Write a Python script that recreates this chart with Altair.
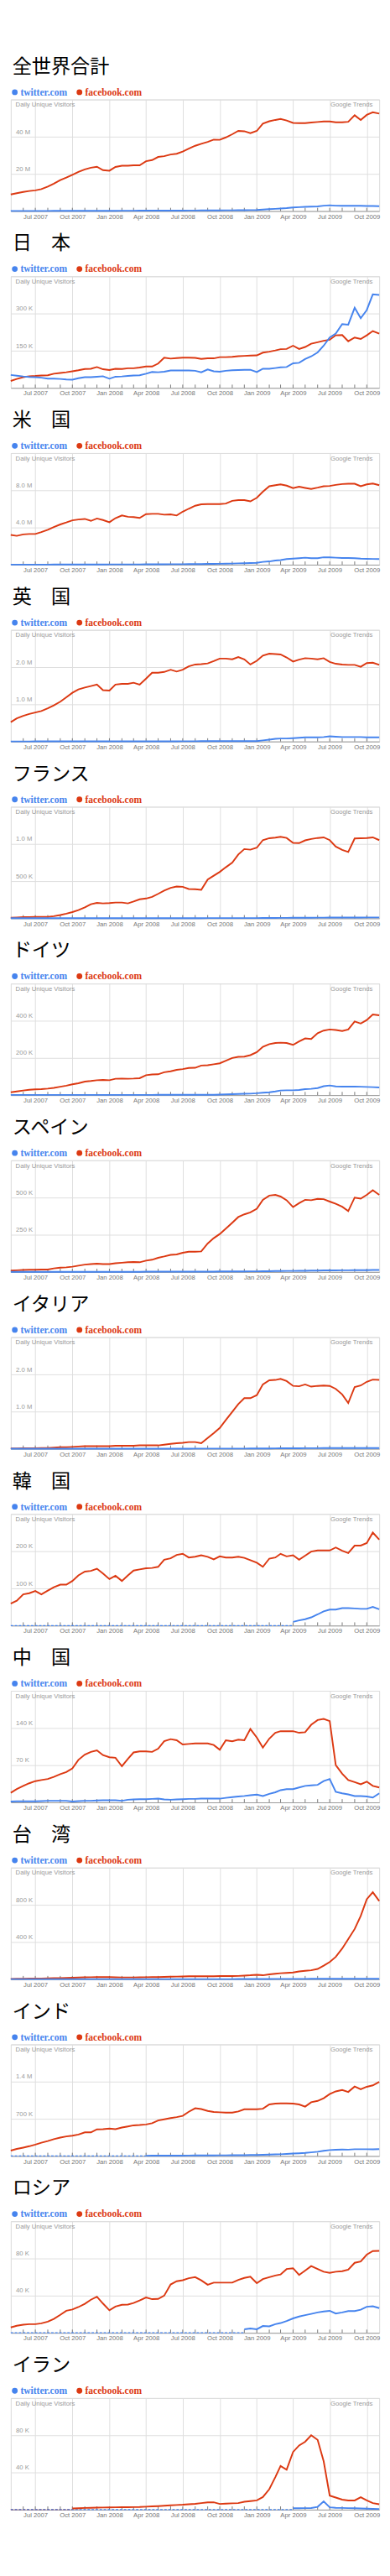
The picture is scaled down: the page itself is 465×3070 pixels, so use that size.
import altair as alt
import pandas as pd

# ---------------- data ----------------
TITLES = ["全世界合計", "日　本", "米　国", "英　国", "フランス", "ドイツ", "スペイン",
          "イタリア", "韓　国", "中　国", "台　湾", "インド", "ロシア", "イラン"]
STEPS = [20, 150, 4, 1, 500, 200, 250, 1, 100, 70, 400, 700, 40, 40]
YLABELS = [["20 M", "40 M"], ["150 K", "300 K"], ["4.0 M", "8.0 M"], ["1.0 M", "2.0 M"],
           ["500 K", "1.0 M"], ["200 K", "400 K"], ["250 K", "500 K"], ["1.0 M", "2.0 M"],
           ["100 K", "200 K"], ["70 K", "140 K"], ["400 K", "800 K"], ["700 K", "1.4 M"],
           ["40 K", "80 K"], ["40 K", "80 K"]]
QUARTERS = ["2007-07-01", "2007-10-01", "2008-01-01", "2008-04-01", "2008-07-01",
            "2008-10-01", "2009-01-01", "2009-04-01", "2009-07-01", "2009-10-01"]

N = None
FB = [
    # world (M)
    [8.9, 9.6, 10.3, 10.8, 11.1, 11.8, 13.1, 14.7, 16.6, 18.0,
     19.5, 21.0, 22.4, 23.3, 23.8, 22.0, 21.7, 23.7, 24.4, 24.4,
     24.6, 24.6, 26.8, 27.4, 29.1, 29.5, 30.4, 30.8, 32.0, 33.6,
     35.1, 36.2, 37.2, 38.4, 38.3, 39.6, 41.3, 43.1, 42.9, 41.9,
     43.1, 47.0, 48.3, 49.0, 49.5, 48.7, 47.4, 47.3, 47.3, 47.6,
     47.9, 48.2, 48.2, 47.7, 47.7, 48.0, 51.5, 49.0, 51.7, 53.1, 52.4],
    # japan (K)
    [28, 36, 43, 47, 48, 50, 51, 57, 60, 63,
     67, 71, 76, 77, 84, 75, 72, 77, 76, 79,
     79, 82, 86, 86, 98, 122, 118, 120, 122, 122,
     121, 117, 119, 119, 124, 124, 125, 128, 129, 130,
     131, 142, 146, 151, 156, 157, 170, 157, 165, 178,
     184, 190, 194, 212, 213, 188, 203, 197, 212, 229, 219],
    # us (M)
    [3.2, 3.1, 3.26, 3.3, 3.3, 3.5, 3.75, 4.05, 4.33, 4.54,
     4.77, 4.86, 4.92, 4.71, 4.97, 4.8, 4.57, 5.0, 5.29, 5.15,
     5.12, 5.03, 5.44, 5.47, 5.47, 5.38, 5.41, 5.29, 5.7, 6.02,
     6.34, 6.49, 6.52, 6.52, 6.52, 6.57, 6.87, 6.95, 6.95, 6.81,
     7.19, 7.85, 8.44, 8.55, 8.64, 8.5, 8.23, 8.38, 8.26, 8.15,
     8.29, 8.44, 8.47, 8.58, 8.67, 8.7, 8.7, 8.44, 8.64, 8.73, 8.55],
    # uk (M)
    [0.52, 0.62, 0.69, 0.74, 0.78, 0.82, 0.89, 0.97, 1.07, 1.19,
     1.31, 1.40, 1.45, 1.49, 1.53, 1.38, 1.37, 1.53, 1.55, 1.55,
     1.58, 1.53, 1.69, 1.85, 1.85, 1.87, 1.93, 1.88, 1.93, 2.02,
     2.07, 2.08, 2.10, 2.16, 2.23, 2.23, 2.21, 2.27, 2.21, 2.07,
     2.17, 2.31, 2.36, 2.35, 2.34, 2.26, 2.15, 2.2, 2.24, 2.23,
     2.21, 2.24, 2.14, 2.09, 2.07, 2.06, 2.06, 2.01, 2.11, 2.12, 2.06],
    # france (K)
    [7, 11, 15, 15, 18, 18, 18, 29, 44, 62,
     84, 110, 146, 190, 208, 201, 204, 212, 212, 201,
     226, 255, 266, 288, 329, 372, 409, 427, 423, 394,
     391, 383, 522, 573, 624, 686, 748, 858, 931, 923,
     949, 1051, 1077, 1084, 1095, 1080, 1015, 1011, 1048, 1066,
     1080, 1088, 1051, 964, 920, 891, 1073, 1077, 1080, 1088, 1051],
    # germany (K)
    [15, 20, 25, 29, 31, 32, 35, 39, 45, 51,
     58, 64, 73, 76, 80, 82, 80, 88, 89, 88,
     89, 91, 107, 111, 112, 123, 128, 136, 140, 146,
     147, 159, 161, 166, 171, 185, 200, 206, 207, 215,
     231, 260, 274, 280, 282, 280, 270, 289, 305, 302,
     333, 347, 353, 350, 345, 353, 396, 385, 404, 434, 429],
    # spain (K)
    [9, 11, 13, 15, 15, 16, 16, 24, 29, 31,
     35, 42, 49, 53, 56, 53, 53, 58, 62, 65,
     67, 65, 76, 82, 95, 104, 115, 118, 129, 136,
     136, 138, 191, 227, 255, 291, 331, 369, 387, 400,
     425, 485, 513, 518, 507, 482, 436, 462, 485, 482,
     491, 489, 473, 458, 438, 409, 500, 493, 518, 549, 518],
    # italy (M)
    [0.01, 0.01, 0.015, 0.015, 0.015, 0.02, 0.02, 0.03, 0.04, 0.04,
     0.05, 0.06, 0.07, 0.07, 0.07, 0.07, 0.07, 0.08, 0.08, 0.08,
     0.08, 0.09, 0.09, 0.09, 0.09, 0.11, 0.13, 0.15, 0.16, 0.18,
     0.18, 0.15, 0.29, 0.42, 0.56, 0.77, 0.99, 1.2, 1.36, 1.36,
     1.44, 1.73, 1.84, 1.85, 1.88, 1.82, 1.69, 1.68, 1.73, 1.67,
     1.69, 1.70, 1.69, 1.61, 1.46, 1.23, 1.66, 1.70, 1.80, 1.86, 1.85],
    # korea (K)
    [59, 67, 84, 87, 93, 84, 94, 103, 110, 110,
     120, 135, 145, 147, 153, 140, 125, 134, 120, 135,
     148, 151, 154, 155, 158, 177, 181, 190, 193, 183,
     185, 189, 185, 178, 186, 183, 183, 185, 182, 176,
     169, 158, 180, 183, 193, 186, 189, 177, 188, 199,
     202, 202, 202, 210, 201, 195, 215, 215, 222, 250, 231],
    # china (K)
    [18, 25, 31, 36, 40, 42, 44, 48, 53, 57,
     64, 80, 90, 95, 98, 89, 85, 84, 68, 82,
     94, 96, 96, 95, 101, 115, 119, 117, 109, 110,
     111, 111, 111, 108, 99, 117, 115, 118, 117, 138,
     122, 103, 120, 131, 134, 134, 134, 131, 132, 146,
     155, 157, 153, 70, 54, 42, 38, 34, 39, 31, 28],
    # taiwan (K)
    [3, 4, 5, 6, 7, 8, 10, 11, 12, 14,
     16, 18, 20, 21, 22, 23, 22, 20, 19, 19,
     19, 20, 21, 22, 23, 25, 27, 28, 30, 31,
     31, 31, 32, 32, 33, 33, 33, 35, 38, 42,
     48, 42, 52, 58, 64, 68, 72, 84, 90, 96,
     110, 145, 185, 240, 330, 430, 540, 680, 860, 935, 840],
    # india (K)
    [102, 133, 158, 184, 215, 250, 281, 317, 347, 368,
     383, 404, 445, 445, 501, 506, 516, 506, 537, 557,
     577, 583, 593, 618, 669, 690, 715, 731, 756, 833,
     899, 884, 848, 828, 823, 818, 818, 838, 879, 879,
     879, 889, 971, 986, 991, 991, 986, 971, 930, 1012,
     1037, 1088, 1165, 1216, 1242, 1206, 1308, 1257, 1303, 1329, 1395],
    # russia (K)
    [5.8, 7.6, 8.8, 9.3, 9.3, 10.2, 12, 14.9, 19.3, 23.7,
     25.1, 27.7, 31.2, 35.6, 38.8, 31.5, 24.2, 28.3, 30.1, 30.4,
     32.1, 34.7, 38.0, 36.2, 36.5, 40.0, 52.0, 55.5, 56.6, 58.7,
     59.9, 56.4, 51.7, 54.0, 54.0, 54.0, 54.0, 56.9, 59.0, 60.4,
     53.4, 57.8, 59.9, 61.6, 62.8, 68.6, 69.5, 62.2, 66.9, 71.8,
     68.6, 65.7, 64.5, 65.7, 66.3, 68.0, 75.3, 76.8, 84.1, 87.9, 88.2],
    # iran (K)
    [N, N, N, N, N, N, N, N, N, N,
     1.2, 1.5, 1.8, 2.0, 2.2, 2.3, 2.4, 2.5, 2.6, 2.6,
     2.7, 2.8, 3.2, 3.5, 3.8, 4.2, 4.6, 5.0, 5.3, 5.8,
     6.3, 7.0, 7.8, 7.9, 6.1, 6.5, 6.8, 7.0, 8.5, 9.2,
     9.9, 13.5, 22, 35, 47, 43, 62, 69, 73, 80,
     75, 52, 15, 13, 10.8, 9.9, 9.9, 13.4, 9.9, 7, 5.8],
]

TW = [
    # world
    [0.05, 0.05, 0.06, 0.06, 0.07, 0.08, 0.08, 0.09, 0.1, 0.1,
     0.11, 0.12, 0.12, 0.13, 0.14, 0.15, 0.15, 0.16, 0.17, 0.18,
     0.19, 0.2, 0.21, 0.22, 0.23, 0.24, 0.25, 0.26, 0.27, 0.28,
     0.3, 0.32, 0.34, 0.36, 0.38, 0.4, 0.42, 0.44, 0.46, 0.5,
     0.6, 0.8, 1.0, 1.2, 1.4, 1.6, 1.9, 2.1, 2.3, 2.4,
     2.5, 2.9, 3.1, 2.9, 2.8, 2.8, 2.8, 2.8, 2.7, 2.7, 2.6],
    # japan
    [52, 49, 46, 44, 43, 41, 37, 37, 36, 34,
     33, 39, 43, 43, 45, 47, 37, 45, 46, 48,
     50, 51, 57, 64, 63, 65, 70, 70, 70, 70,
     69, 63, 74, 67, 65, 69, 71, 72, 73, 73,
     64, 77, 77, 80, 83, 84, 99, 101, 116, 127,
     143, 170, 203, 219, 257, 255, 323, 281, 314, 377, 375],
    # us
    [0.01, 0.01, 0.01, 0.01, 0.01, 0.01, 0.01, 0.02, 0.02, 0.02,
     0.02, 0.02, 0.02, 0.02, 0.02, 0.02, 0.03, 0.03, 0.03, 0.03,
     0.03, 0.03, 0.04, 0.04, 0.04, 0.04, 0.05, 0.05, 0.05, 0.06,
     0.06, 0.07, 0.08, 0.09, 0.1, 0.11, 0.12, 0.14, 0.15, 0.17,
     0.2, 0.3, 0.35, 0.45, 0.5, 0.6, 0.65, 0.7, 0.75, 0.7,
     0.7, 0.8, 0.78, 0.75, 0.72, 0.72, 0.7, 0.65, 0.63, 0.62, 0.6],
    # uk
    [0.002, 0.002, 0.002, 0.002, 0.003, 0.003, 0.003, 0.003, 0.003, 0.003,
     0.004, 0.004, 0.004, 0.004, 0.004, 0.004, 0.004, 0.005, 0.005, 0.005,
     0.005, 0.005, 0.005, 0.005, 0.006, 0.006, 0.006, 0.006, 0.007, 0.007,
     0.007, 0.008, 0.008, 0.008, 0.009, 0.009, 0.01, 0.01, 0.01, 0.01,
     0.01, 0.03, 0.05, 0.07, 0.08, 0.08, 0.09, 0.10, 0.11, 0.11,
     0.11, 0.12, 0.14, 0.13, 0.12, 0.12, 0.12, 0.12, 0.11, 0.11, 0.11],
    # france
    [1, 1, 1, 1, 1, 1, 1, 1, 1, 1,
     1, 1, 1, 1, 1, 2, 2, 2, 2, 2,
     2, 2, 2, 2, 2, 2, 2, 2, 2, 2,
     2, 2, 3, 3, 3, 3, 3, 3, 3, 3,
     3, 4, 5, 5, 6, 6, 7, 7, 8, 8,
     9, 9, 10, 10, 10, 11, 11, 11, 12, 12, 12],
    # germany
    [1, 1, 1, 1, 1, 1, 1, 1, 1, 1,
     1, 1, 1, 1, 1, 1, 1, 1, 1, 1,
     1, 1, 1, 1, 2, 2, 2, 2, 2, 2,
     2, 2, 2, 2, 3, 4, 5, 6, 7, 8,
     10, 13, 15, 20, 25, 26, 26, 28, 32, 34,
     38, 48, 52, 47, 46, 46, 46, 45, 44, 43, 41],
    # spain
    [1, 1, 1, 1, 1, 1, 1, 1, 1, 1,
     1, 1, 1, 1, 1, 1, 1, 1, 1, 1,
     1, 1, 2, 2, 2, 2, 2, 2, 2, 2,
     2, 2, 2, 2, 3, 3, 3, 3, 3, 4,
     4, 5, 5, 6, 6, 7, 7, 8, 8, 9,
     9, 10, 10, 10, 11, 11, 12, 12, 12, 13, 13],
    # italy
    [0.002, 0.002, 0.002, 0.002, 0.002, 0.002, 0.002, 0.002, 0.002, 0.002,
     0.002, 0.002, 0.002, 0.002, 0.002, 0.003, 0.003, 0.003, 0.003, 0.003,
     0.003, 0.003, 0.003, 0.003, 0.003, 0.003, 0.003, 0.003, 0.003, 0.003,
     0.004, 0.004, 0.004, 0.004, 0.004, 0.004, 0.005, 0.005, 0.005, 0.006,
     0.006, 0.008, 0.009, 0.01, 0.011, 0.012, 0.013, 0.014, 0.015, 0.015,
     0.016, 0.017, 0.018, 0.018, 0.018, 0.018, 0.018, 0.018, 0.018, 0.018, 0.018],
    # korea
    [N, N, N, N, N, N, N, N, N, N,
     N, N, N, N, N, N, N, N, N, N,
     N, N, N, N, N, N, N, N, N, N,
     N, N, N, N, N, N, N, N, N, N,
     N, N, N, N, N, N, 10, 14, 17, 22,
     30, 38, 43, 43, 47, 47, 46, 45, 45, 50, 44],
    # china
    [1.5, 2, 2, 2, 2, 2.5, 3, 3, 3, 3,
     1.5, 2.5, 3, 3, 3.5, 4, 4, 4, 3, 5,
     5.5, 6, 6, 6.5, 7, 5.5, 5, 5.5, 6, 6.5,
     6.5, 7, 7, 7, 7, 8.5, 10, 11, 12, 13.5,
     14.5, 12, 16, 19, 23, 25, 25, 28, 31, 32,
     33, 40, 44, 20, 17, 15, 12, 12, 11, 9, 17],
    # taiwan
    [1, 1, 1, 1, 1, 1, 1, 1, 1, 1,
     1, 1, 1, 1, 1, 1, 1, 1, 1, 1,
     1, 1, 1, 1, 1, 1, 1, 1, 1, 1,
     1, 1, 1, 1, 1, 1, 1, 2, 2, 2,
     2, 2, 2, 3, 3, 3, 3, 3, 3, 4,
     4, 4, 4, 4, 4, 4, 4, 5, 5, 5, 5],
    # india
    [N, N, N, N, N, N, N, N, N, N,
     N, N, N, N, N, N, N, N, N, N,
     N, N, 5, 6, 6, 7, 7, 8, 8, 9,
     10, 11, 12, 12, 13, 13, 14, 15, 16, 18,
     20, 22, 26, 30, 33, 40, 48, 52, 58, 68,
     80, 98, 112, 118, 122, 120, 128, 128, 128, 125, 130],
    # russia
    [N, N, N, N, N, N, N, N, N, N,
     N, N, N, N, N, N, N, N, N, N,
     N, N, N, N, N, N, N, N, N, N,
     N, N, N, N, N, N, N, N, 3.8, 4.7,
     3.8, 7.3, 7, 9.3, 10.5, 12.6, 15.5, 17.5, 19, 20.4,
     21.9, 23, 23.7, 20.7, 21.9, 23.4, 23.4, 24.8, 28, 28.6, 26.6],
    # iran
    [N, N, N, N, N, N, N, N, N, N,
     N, N, N, N, N, N, N, N, N, N,
     N, N, N, N, N, N, N, N, N, N,
     N, N, N, N, N, N, N, N, N, N,
     N, N, N, N, N, N, 1.5, 1.5, 1.6, 1.7,
     3, 8.8, 2.5, 2, 1.8, 1.6, 1.5, 1.3, 1.0, 0.8, 0.7],
]

# semi-monthly sampling dates (1st and 16th of each month)
DATES = []
for yr in (2007, 2008, 2009):
    for mo in range(1, 13):
        for dy in (1, 16):
            s = f"{yr}-{mo:02d}-{dy:02d}"
            if "2007-05-01" <= s <= "2009-11-01":
                DATES.append(s)
MONTHS = [d for d in DATES if d.endswith("-01") and "2007-06-01" <= d <= "2009-10-01"]

for arr in FB + TW:
    assert len(arr) == len(DATES), len(arr)

# ---------------- style ----------------
BLUE = "#4684ee"
RED = "#dc3912"
GRID = "#dedede"
W = 456
H = 138
PITCH = 218.7


def ts(d):
    return d + "T00:00:00"


def dt(d):
    y, m, dd = d.split("-")
    return alt.DateTime(year=int(y), month=int(m), date=int(dd))


def one(text):
    return pd.DataFrame({"t": [text]})


def panel(k):
    s = STEPS[k]
    l1, l2 = YLABELS[k]
    x_enc = alt.X(
        "date:T",
        scale=alt.Scale(domain=[dt("2007-05-01"), dt("2009-11-01")]),
        axis=alt.Axis(values=[dt(q) for q in QUARTERS], format="%b %Y", grid=True,
                      gridColor=GRID, domain=True, domainColor="#999999",
                      ticks=False, tickSize=0, labelColor="#777777", labelFontSize=8,
                      labelFont="Liberation Sans", labelPadding=3, labelFlush=False,
                      labelOverlap=False, title=None),
    )
    y_enc = alt.Y(
        "v:Q",
        scale=alt.Scale(domain=[0, 3 * s], nice=False, zero=True),
        axis=alt.Axis(values=[s, 2 * s, 3 * s],
                      labelExpr=f"datum.value == {s} ? '{l1}' : datum.value == {2 * s} ? '{l2}' : ''",
                      grid=True, gridColor=GRID, domain=False, ticks=False, tickSize=0,
                      labelAlign="left", labelBaseline="bottom", labelPadding=-6,
                      labelOffset=-2, labelColor="#999999", labelFontSize=8,
                      labelFont="Liberation Sans", labelOverlap=False, title=None),
    )

    def series_df(vals):
        return pd.DataFrame({"date": [ts(d) for d, v in zip(DATES, vals) if v is not None],
                             "v": [v for v in vals if v is not None]})

    def missing_df(vals):
        if vals[0] is not None:
            return None
        first = next(i for i, v in enumerate(vals) if v is not None)
        return pd.DataFrame({"date": [ts(DATES[0]), ts(DATES[first])], "v": [0, 0]})

    layers = []
    ticks = alt.Chart(pd.DataFrame({"date": [ts(m) for m in MONTHS]})).mark_rule(
        color="#777777", strokeWidth=1).encode(x=x_enc, y=alt.value(H), y2=alt.value(H - 4))
    layers.append(ticks)

    for vals, col in ((FB[k], RED), (TW[k], BLUE)):
        mdf = missing_df(vals)
        if mdf is not None:
            layers.append(alt.Chart(mdf).mark_line(color=col, strokeWidth=1.3,
                                                   strokeDash=[3, 2]).encode(x=x_enc, y=y_enc))
    layers.append(alt.Chart(series_df(FB[k])).mark_line(color=RED, strokeWidth=2).encode(x=x_enc, y=y_enc))
    layers.append(alt.Chart(series_df(TW[k])).mark_line(color=BLUE, strokeWidth=2).encode(x=x_enc, y=y_enc))

    # in-plot captions
    layers.append(alt.Chart(one("Daily Unique Visitors")).mark_text(
        align="left", baseline="middle", font="Liberation Sans", fontSize=8, color="#999999"
    ).encode(x=alt.value(6), y=alt.value(7), text="t:N"))
    layers.append(alt.Chart(one("Google Trends")).mark_text(
        align="right", baseline="middle", font="Liberation Sans", fontSize=8, color="#999999"
    ).encode(x=alt.value(W - 8), y=alt.value(7), text="t:N"))

    # legend
    layers.append(alt.Chart(one("twitter.com")).mark_circle(size=50, color=BLUE, opacity=1).encode(
        x=alt.value(5), y=alt.value(-9)))
    layers.append(alt.Chart(one("twitter.com")).mark_text(
        align="left", baseline="middle", font="Liberation Serif", fontSize=12, fontWeight="bold",
        color=BLUE).encode(x=alt.value(12), y=alt.value(-9), text="t:N"))
    layers.append(alt.Chart(one("facebook.com")).mark_circle(size=50, color=RED, opacity=1).encode(
        x=alt.value(85), y=alt.value(-9)))
    layers.append(alt.Chart(one("facebook.com")).mark_text(
        align="left", baseline="middle", font="Liberation Serif", fontSize=12, fontWeight="bold",
        color=RED).encode(x=alt.value(92), y=alt.value(-9), text="t:N"))

    # panel title
    layers.append(alt.Chart(one(TITLES[k])).mark_text(
        align="left", baseline="alphabetic", font="Noto Sans CJK JP", fontSize=24,
        color="#000000").encode(x=alt.value(2), y=alt.value(-33), text="t:N"))

    return alt.layer(*layers).properties(width=W, height=H)


chart = alt.vconcat(*[panel(k) for k in range(len(TITLES))],
                    spacing=PITCH - H, bounds="flush").resolve_scale(
    x="independent", y="independent"
).properties(
    padding={"left": 0, "top": 4, "right": 0, "bottom": 0}
).configure_view(stroke="#d8d8d8")

chart.save("out.html", embed_options={"renderer": "svg", "actions": False})
